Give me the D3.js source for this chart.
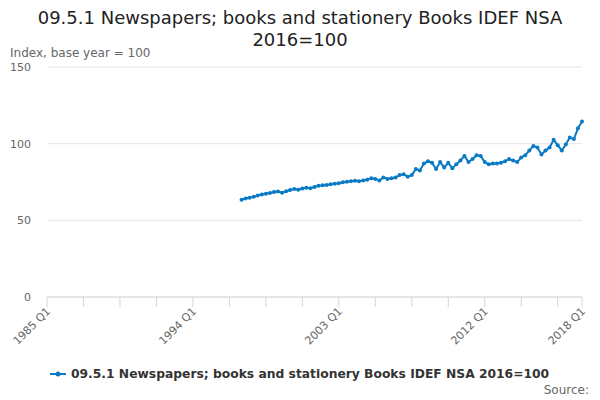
<!DOCTYPE html><html><head><meta charset="utf-8"><script src="https://cdn.jsdelivr.net/npm/d3@7"></script>
<style>body{margin:0}svg{font-family:"DejaVu Sans",sans-serif}</style></head><body><svg width="600" height="400"></svg><script>
const startYear=1997;
const values=[63.5,64.2,64.8,65.3,66.2,66.8,67.3,67.8,68.5,68.8,68.0,69.0,69.8,70.5,70.0,70.8,71.2,71.0,71.8,72.5,72.8,73.0,73.5,73.8,74.2,74.8,75.2,75.5,75.8,75.5,76.0,76.5,77.5,77.0,76.0,78.0,77.0,77.5,78.0,79.5,80.0,78.5,79.5,83.5,82.5,87.0,88.5,87.5,83.5,88.0,84.5,87.5,84.0,86.5,89.0,92.0,88.0,90.0,92.5,92.0,88.0,86.5,87.0,87.0,87.5,88.5,90.0,89.0,88.0,91.0,92.5,95.5,98.5,97.5,93.0,95.5,97.5,102.5,99.0,95.5,99.5,104.0,103.0,110.0,114.5];
const yTicks=[0,50,100,150];
const xLabels=["1985 Q1","1994 Q1","2003 Q1","2012 Q1","2018 Q1"];
const svg=d3.select("svg");
const x=d3.scaleLinear().domain([0,132]).range([47,582]);
const y=d3.scaleLinear().domain([0,150]).range([297,67]);
const q=s=>{const [yr,qq]=s.split(" Q");return (+yr-1985)*4+(+qq-1);};
svg.append("text").attr("x",300).attr("y",24).attr("text-anchor","middle").attr("font-size",18).attr("fill","#222").text("09.5.1 Newspapers; books and stationery Books IDEF NSA");
svg.append("text").attr("x",300).attr("y",46).attr("text-anchor","middle").attr("font-size",18).attr("fill","#222").text("2016=100");
svg.append("text").attr("x",10).attr("y",57).attr("font-size",12).attr("fill","#666").text("Index, base year = 100");
yTicks.forEach(t=>{
 svg.append("line").attr("x1",47).attr("x2",582).attr("y1",y(t)).attr("y2",y(t)).attr("stroke",t===0?"#ccc":"#e6e6e6");
 svg.append("text").attr("x",31).attr("y",y(t)+4).attr("text-anchor","end").attr("font-size",11).attr("fill","#666").text(t);
});
for(let i=0;i<=132;i+=9) svg.append("line").attr("x1",x(i)).attr("x2",x(i)).attr("y1",297).attr("y2",307).attr("stroke","#ccd6eb");
svg.append("line").attr("x1",x(132)).attr("x2",x(132)).attr("y1",297).attr("y2",307).attr("stroke","#ccd6eb");
xLabels.forEach(l=>{const px=x(q(l));
 svg.append("text").attr("transform",`translate(${px+4},${312}) rotate(-45)`).attr("text-anchor","end").attr("font-size",11).attr("fill","#666").text(l);});
const data=values.map((v,i)=>({i:(startYear-1985)*4+i,v}));
svg.append("path").datum(data).attr("fill","none").attr("stroke","#0a7ac4").attr("stroke-width",2).attr("d",d3.line().x(d=>x(d.i)).y(d=>y(d.v)));
svg.selectAll("circle.p").data(data).join("circle").attr("cx",d=>x(d.i)).attr("cy",d=>y(d.v)).attr("r",2).attr("fill","#0a7ac4");
svg.append("line").attr("x1",50).attr("x2",66).attr("y1",374).attr("y2",374).attr("stroke","#0a7ac4").attr("stroke-width",2);
svg.append("circle").attr("cx",58).attr("cy",374).attr("r",2.5).attr("fill","#0a7ac4");
svg.append("text").attr("x",71).attr("y",378).attr("font-size",12.3).attr("font-weight","bold").attr("fill","#333").text("09.5.1 Newspapers; books and stationery Books IDEF NSA 2016=100");
svg.append("text").attr("x",589).attr("y",394).attr("text-anchor","end").attr("font-size",12).attr("fill","#666").text("Source:");
</script></body></html>
